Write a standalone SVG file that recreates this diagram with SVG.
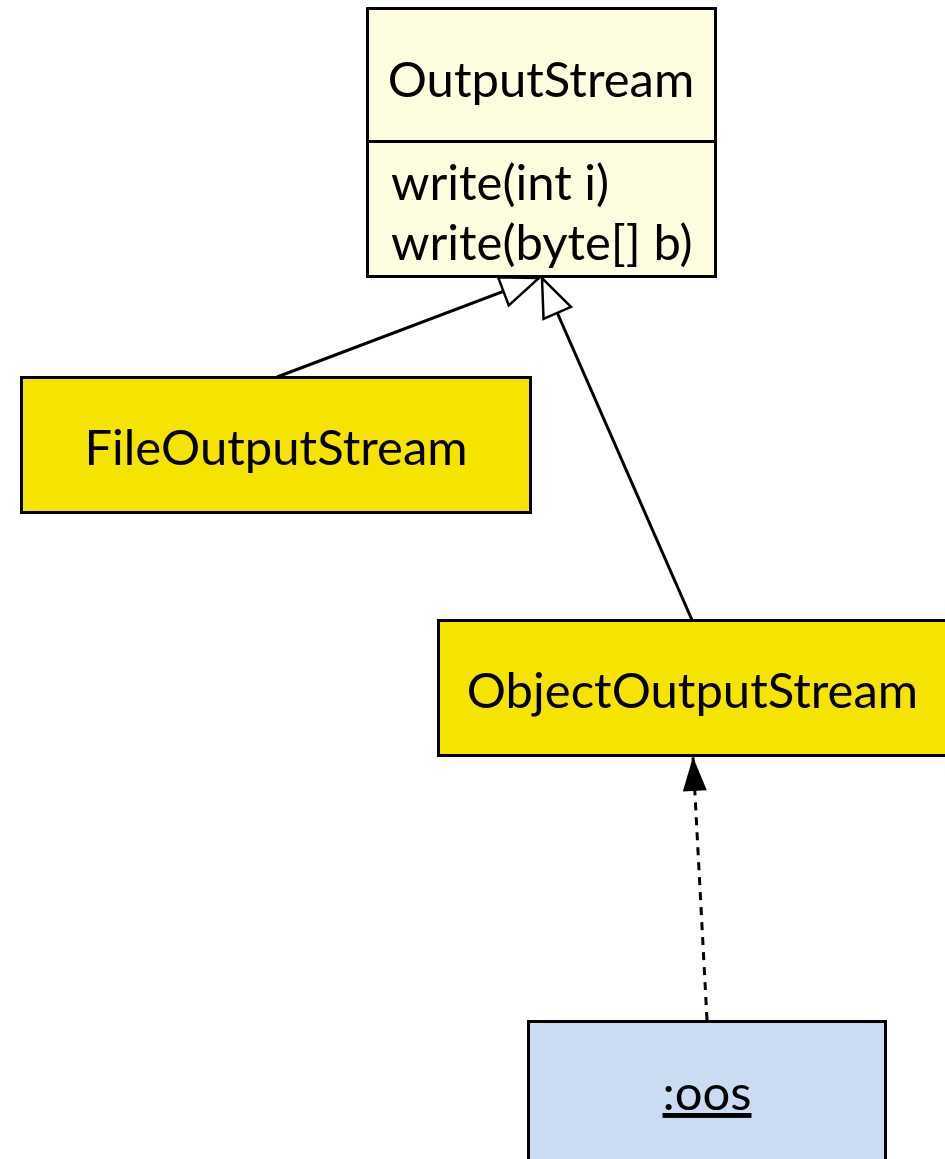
<svg xmlns="http://www.w3.org/2000/svg" width="945" height="1159" viewBox="0 0 945 1159">
<style>
.box{stroke:#000;stroke-width:3}
.cls{fill:#F5E300}
.abs{fill:#FFFDE0}
.obj{fill:#C9DCF1}
text{font-family:Lato,"Liberation Sans",sans-serif;font-size:49px;fill:#000}
.c{text-anchor:middle}
.edge{stroke:#000;stroke-width:3;fill:none}
</style>
<defs>
<marker id="gen" markerUnits="userSpaceOnUse" markerWidth="42" markerHeight="34" refX="39" refY="17" orient="auto" overflow="visible">
<path d="M1,2 L39,17 L1,32 Z" fill="#fff" stroke="#000" stroke-width="2.5" stroke-linejoin="miter"/>
</marker>
<marker id="dep" markerUnits="userSpaceOnUse" markerWidth="36" markerHeight="26" refX="34" refY="12" orient="auto" overflow="visible">
<path d="M0,0 L34,12 L0,24 Z" fill="#000"/>
</marker>
</defs>
<g id="connectors">
<line class="edge" x1="277" y1="377" x2="539" y2="278" marker-end="url(#gen)"/>
<line class="edge" x1="692" y1="620" x2="542" y2="278" marker-end="url(#gen)"/>
<line class="edge" x1="707" y1="1020" x2="693" y2="757" stroke-width="3.5" stroke-dasharray="8,7" marker-end="url(#dep)"/>
</g>
<g id="OutputStream">
<rect class="box abs" x="367.5" y="8.5" width="348" height="268"/>
<line class="box" x1="367.5" y1="141.5" x2="715.5" y2="141.5"/>
<text class="c" x="541" y="97">OutputStream</text>
<text x="391" y="200">write(int i)</text>
<text x="391" y="260">write(byte[] b)</text>
</g>
<g id="FileOutputStream">
<rect class="box cls" x="21.5" y="377.5" width="509" height="135"/>
<text class="c" x="276" y="465">FileOutputStream</text>
</g>
<g id="ObjectOutputStream">
<rect class="box cls" x="438.5" y="620.5" width="510" height="135"/>
<text class="c" x="692.5" y="708">ObjectOutputStream</text>
</g>
<g id="oos">
<rect class="box obj" x="528.5" y="1021.5" width="357" height="150"/>
<text class="c" x="707" y="1110" text-decoration="underline">:oos</text>
</g>
</svg>
